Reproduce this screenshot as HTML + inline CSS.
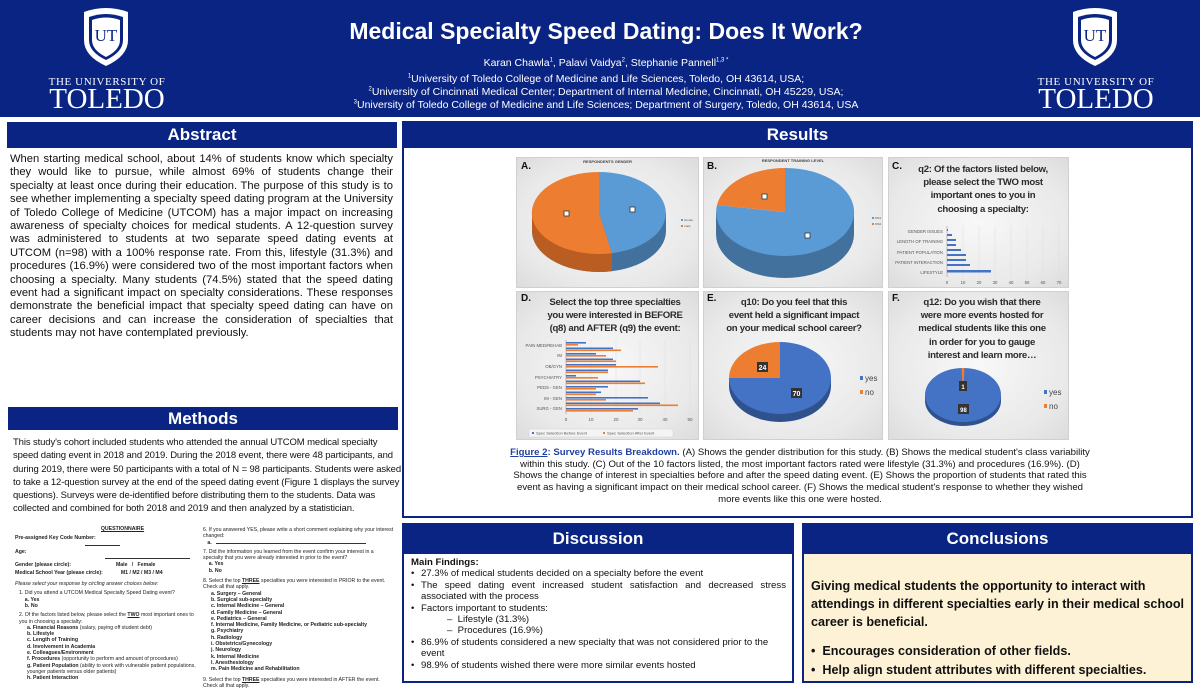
<!DOCTYPE html>
<html><head><meta charset="utf-8">
<style>
*{margin:0;padding:0;box-sizing:border-box}
body{width:1200px;height:675px;overflow:hidden;background:#fff;font-family:"Liberation Sans",Arial,sans-serif;position:relative;color:#111}
.abs{position:absolute}
.hdr{background:#0a2483;color:#fff;font-weight:bold;text-align:center;font-size:17px;line-height:26px}
.serif{font-family:"Liberation Serif",serif}
.cbox{position:absolute;background:radial-gradient(ellipse at center,#f8f8f8 0%,#e9e9e9 70%,#dcdcdc 100%);border:1px solid #d0d0d0}
.lbl{position:absolute;font-weight:bold;font-size:10px;color:#111}
.ctitle{position:absolute;text-align:center;font-weight:bold;color:#2b2b2b;font-size:9.6px;line-height:13.2px;letter-spacing:-0.3px}
.q{font-size:5.2px;line-height:6.3px;color:#222}
.q b{font-weight:bold}
sup{font-size:6px;line-height:0}
</style></head><body>

<div class="abs" style="left:0;top:0;width:1200px;height:117px;background:#0a2483"></div>
<svg class="abs" style="left:78px;top:6px" width="56" height="62" viewBox="0 0 56 62">
<path d="M6 6 Q28 -2 50 6 L50 34 Q50 50 28 60 Q6 50 6 34 Z" fill="#fff"/>
<path d="M11 11 Q28 5 45 11 L45 34 Q45 46 28 54 Q11 46 11 34 Z" fill="#0a2483"/>
<path d="M14 14 Q28 9 42 14 L42 34 Q42 44 28 51 Q14 44 14 34 Z" fill="#fff"/>
<text x="28" y="35" text-anchor="middle" font-family="Liberation Serif" font-size="17" fill="#0a2483">UT</text>
</svg>
<div class="abs serif" style="left:40px;top:76px;width:134px;text-align:center;color:#fff;font-size:11px;letter-spacing:0.6px">THE UNIVERSITY OF</div>
<div class="abs serif" style="left:40px;top:84px;width:134px;text-align:center;color:#fff;font-size:29px;line-height:30px">TOLEDO</div>
<svg class="abs" style="left:1067px;top:6px" width="56" height="62" viewBox="0 0 56 62">
<path d="M6 6 Q28 -2 50 6 L50 34 Q50 50 28 60 Q6 50 6 34 Z" fill="#fff"/>
<path d="M11 11 Q28 5 45 11 L45 34 Q45 46 28 54 Q11 46 11 34 Z" fill="#0a2483"/>
<path d="M14 14 Q28 9 42 14 L42 34 Q42 44 28 51 Q14 44 14 34 Z" fill="#fff"/>
<text x="28" y="35" text-anchor="middle" font-family="Liberation Serif" font-size="17" fill="#0a2483">UT</text>
</svg>
<div class="abs serif" style="left:1029px;top:76px;width:134px;text-align:center;color:#fff;font-size:11px;letter-spacing:0.6px">THE UNIVERSITY OF</div>
<div class="abs serif" style="left:1029px;top:84px;width:134px;text-align:center;color:#fff;font-size:29px;line-height:30px">TOLEDO</div>

<div class="abs" style="left:200px;top:18px;width:812px;text-align:center;color:#fff;font-weight:bold;font-size:23px">Medical Specialty Speed Dating: Does It Work?</div>
<div class="abs" style="left:200px;top:57px;width:812px;text-align:center;color:#fff;font-size:10.5px;line-height:13px">Karan Chawla<sup>1</sup>, Palavi Vaidya<sup>2</sup>, Stephanie Pannell<sup>1,3 *</sup></div>
<div class="abs" style="left:200px;top:73px;width:812px;text-align:center;color:#fff;font-size:10.5px;line-height:13.2px"><sup>1</sup>University of Toledo College of Medicine and Life Sciences, Toledo, OH 43614, USA;<br><sup>2</sup>University of Cincinnati Medical Center; Department of Internal Medicine, Cincinnati, OH 45229, USA;<br><sup>3</sup>University of Toledo College of Medicine and Life Sciences; Department of Surgery, Toledo, OH 43614, USA</div>

<div class="abs hdr" style="left:7px;top:122px;width:390px;height:26px">Abstract</div>
<div class="abs" style="left:10px;top:153px;width:383px;font-size:11.2px;line-height:13.4px;text-align:justify">When starting medical school, about 14% of students know which specialty they would like to pursue, while almost 69% of students change their specialty at least once during their education. The purpose of this study is to see whether implementing a specialty speed dating program at the University of Toledo College of Medicine (UTCOM) has a major impact on increasing awareness of specialty choices for medical students. A 12-question survey was administered to students at two separate speed dating events at UTCOM (n=98) with a 100% response rate. From this, lifestyle (31.3%) and procedures (16.9%) were considered two of the most important factors when choosing a specialty. Many students (74.5%) stated that the speed dating event had a significant impact on specialty considerations. These responses demonstrate the beneficial impact that specialty speed dating can have on career decisions and can increase the consideration of specialties that students may not have contemplated previously.</div>

<div class="abs hdr" style="left:8px;top:407px;width:390px;height:23px;line-height:23px">Methods</div>
<div class="abs" style="left:13px;top:436px;width:388px;font-size:9.5px;letter-spacing:-0.12px;line-height:13.3px">This study's cohort included students who attended the annual UTCOM medical specialty speed dating event in 2018 and 2019. During the 2018 event, there were 48 participants, and during 2019, there were 50 participants with a total of N = 98 participants. Students were asked to take a 12-question survey at the end of the speed dating event (Figure 1 displays the survey questions). Surveys were de-identified before distributing them to the students. Data was collected and combined for both 2018 and 2019 and then analyzed by a statistician.</div>

<div class="abs q" style="left:15px;top:526px;width:185px">
<div style="text-align:center;text-decoration:underline;font-weight:bold;margin-left:30px">QUESTIONNAIRE</div>
<div style="margin-top:3px"><b>Pre-assigned Key Code Number:</b><span style="display:inline-block;width:35px;border-bottom:0.5px solid #333;margin-left:70px"></span></div>
<div style="margin-top:1px"><b>Age:</b><span style="display:inline-block;width:85px;border-bottom:0.5px solid #333;margin-left:90px"></span></div>
<div style="margin-top:1px"><b>Gender (please circle):</b><span style="margin-left:45px"><b>Male &nbsp; / &nbsp; Female</b></span></div>
<div style="margin-top:1px"><b>Medical School Year (please circle):</b><span style="margin-left:18px"><b>M1 / M2 / M3 / M4</b></span></div>
<div style="margin-top:5px;font-style:italic">Please select your response by circling answer choices below:</div>
<div style="margin-top:3px;margin-left:4px">1. Did you attend a UTCOM Medical Specialty Speed Dating event?<br>&nbsp;&nbsp;&nbsp;&nbsp;<b>a. Yes</b><br>&nbsp;&nbsp;&nbsp;&nbsp;<b>b. No</b></div>
<div style="margin-top:3px;margin-left:4px">2. Of the factors listed below, please select the <b><u>TWO</u></b> most important ones to you in choosing a specialty:
<div style="margin-left:8px"><b>a. Financial Reasons</b> (salary, paying off student debt)<br><b>b. Lifestyle</b><br><b>c. Length of Training</b><br><b>d. Involvement in Academia</b><br><b>e. Colleagues/Environment</b><br><b>f. Procedures</b> (opportunity to perform and amount of procedures)<br><b>g. Patient Population</b> (ability to work with vulnerable patient populations, younger patients versus older patients)<br><b>h. Patient Interaction</b></div></div>
</div>
<div class="abs q" style="left:203px;top:527px;width:192px">
<div>6. If you answered YES, please write a short comment explaining why your interest changed:<br>&nbsp;&nbsp;&nbsp;<b>a.</b><span style="display:inline-block;width:150px;border-bottom:0.5px solid #333;margin-left:4px"></span></div>
<div style="margin-top:3px">7. Did the information you learned from the event confirm your interest in a specialty that you were already interested in prior to the event?<br>&nbsp;&nbsp;&nbsp;&nbsp;<b>a. Yes</b><br>&nbsp;&nbsp;&nbsp;&nbsp;<b>b. No</b></div>
<div style="margin-top:4px">8. Select the top <b><u>THREE</u></b> specialties you were interested in PRIOR to the event. Check all that apply.
<div style="margin-left:8px"><b>a. Surgery – General<br>b. Surgical sub-specialty<br>c. Internal Medicine – General<br>d. Family Medicine – General<br>e. Pediatrics – General<br>f. Internal Medicine, Family Medicine, or Pediatric sub-specialty<br>g. Psychiatry<br>h. Radiology<br>i. Obstetrics/Gynecology<br>j. Neurology<br>k. Internal Medicine<br>l. Anesthesiology<br>m. Pain Medicine and Rehabilitation</b></div></div>
<div style="margin-top:4px">9. Select the top <b><u>THREE</u></b> specialties you were interested in AFTER the event. Check all that apply.</div>
</div>

<div class="abs" style="left:402px;top:121px;width:791px;height:397px;border:2px solid #0a2483"></div>
<div class="abs hdr" style="left:403px;top:122px;width:789px;height:26px">Results</div>

<!-- A -->
<div class="cbox" style="left:516px;top:157px;width:183px;height:131px"></div>
<div class="lbl" style="left:521px;top:161px">A.</div>
<div class="abs" style="left:516px;top:159px;width:183px;text-align:center;font-size:4px;font-weight:bold;color:#444">RESPONDENTS GENDER</div>
<svg class="abs" style="left:516px;top:157px" width="183" height="131">
<g transform="translate(-516,-157)">
<path d="M532 213 L532 231 A67 41 0 0 0 666 231 L666 213 Z" fill="#41719c"/>
<path d="M532 213 L532 231 A67 41 0 0 0 612 271.2 L612 253.2 Z" fill="#b95d22"/>
<path d="M599 213 L599 172 A67 41 0 0 1 612 253.2 Z" fill="#5b9bd5"/>
<path d="M599 213 L612 253.2 A67 41 0 1 1 599 172 Z" fill="#ed7d31"/>
<rect x="564" y="211" width="5" height="5" fill="#fff" stroke="#333" stroke-width="0.8"/>
<rect x="630" y="207" width="5" height="5" fill="#fff" stroke="#333" stroke-width="0.8"/>
<rect x="681" y="219" width="2" height="2" fill="#5b9bd5"/><rect x="681" y="225" width="2" height="2" fill="#ed7d31"/>
<text x="684" y="221" font-size="3" fill="#555">female</text><text x="684" y="227" font-size="3" fill="#555">male</text>
</g></svg>

<!-- B -->
<div class="cbox" style="left:703px;top:157px;width:180px;height:131px"></div>
<div class="lbl" style="left:707px;top:161px">B.</div>
<div class="abs" style="left:703px;top:158px;width:180px;text-align:center;font-size:4px;font-weight:bold;color:#444">RESPONDENT TRAINING LEVEL</div>
<svg class="abs" style="left:703px;top:157px" width="180" height="131">
<g transform="translate(-703,-157)">
<path d="M716 212 L716 234 A69 44 0 0 0 854 234 L854 212 Z" fill="#41719c"/>
<path d="M785 212 L785 168 A69 44 0 1 1 717 205 Z" fill="#5b9bd5"/>
<path d="M785 212 L717 205 A69 44 0 0 1 785 168 Z" fill="#ed7d31"/>
<rect x="762" y="194" width="5" height="5" fill="#fff" stroke="#333" stroke-width="0.8"/>
<rect x="805" y="233" width="5" height="5" fill="#fff" stroke="#333" stroke-width="0.8"/>
<rect x="872" y="217" width="2" height="2" fill="#5b9bd5"/><rect x="872" y="223" width="2" height="2" fill="#ed7d31"/>
<text x="875" y="219" font-size="3" fill="#555">MS1</text><text x="875" y="225" font-size="3" fill="#555">MS2</text>
</g></svg>

<!-- C -->
<div class="cbox" style="left:888px;top:157px;width:181px;height:131px"></div>
<div class="lbl" style="left:892px;top:161px">C.</div>
<div class="ctitle" style="left:900px;width:166px;top:163px">q2: Of the factors listed below,<br>please select the TWO most<br>important ones to you in<br>choosing a specialty:</div>
<svg class="abs" style="left:888px;top:157px" width="181" height="131">
<g transform="translate(-888,-157)" font-family="Liberation Sans" fill="#555">
<g stroke="#ddd" stroke-width="0.5"><line x1="963" y1="226" x2="963" y2="277"/><line x1="979" y1="226" x2="979" y2="277"/><line x1="995" y1="226" x2="995" y2="277"/><line x1="1011" y1="226" x2="1011" y2="277"/><line x1="1027" y1="226" x2="1027" y2="277"/><line x1="1043" y1="226" x2="1043" y2="277"/><line x1="1059" y1="226" x2="1059" y2="277"/></g>
<line x1="947" y1="226" x2="947" y2="277" stroke="#999" stroke-width="0.6"/>
<g fill="#4472c4">
<rect x="947" y="229" width="1" height="2"/><rect x="947" y="234" width="5" height="2"/><rect x="947" y="239" width="9" height="2"/><rect x="947" y="244" width="9" height="2"/><rect x="947" y="249" width="14" height="2"/><rect x="947" y="254" width="19" height="2"/><rect x="947" y="259" width="19" height="2"/><rect x="947" y="264" width="23" height="2"/><rect x="947" y="270" width="44" height="2.5"/>
</g>
<g font-size="4.3" text-anchor="end"><text x="943" y="233">GENDER ISSUES</text><text x="943" y="243">LENGTH OF TRAINING</text><text x="943" y="254">PATIENT POPULATION</text><text x="943" y="264">PATIENT INTERACTION</text><text x="943" y="274">LIFESTYLE</text></g>
<g font-size="4.3" text-anchor="middle"><text x="947" y="284">0</text><text x="963" y="284">10</text><text x="979" y="284">20</text><text x="995" y="284">30</text><text x="1011" y="284">40</text><text x="1027" y="284">50</text><text x="1043" y="284">60</text><text x="1059" y="284">70</text></g>
</g></svg>

<!-- D -->
<div class="cbox" style="left:516px;top:291px;width:183px;height:149px"></div>
<div class="lbl" style="left:521px;top:293px">D.</div>
<div class="ctitle" style="left:532px;width:166px;top:296px">Select the top three specialties<br>you were interested in BEFORE<br>(q8) and AFTER (q9) the event:</div>
<svg class="abs" style="left:516px;top:291px" width="183" height="149">
<g transform="translate(-516,-291)" fill="#555">
<g stroke="#ddd" stroke-width="0.5"><line x1="591" y1="340" x2="591" y2="414"/><line x1="616" y1="340" x2="616" y2="414"/><line x1="640" y1="340" x2="640" y2="414"/><line x1="665" y1="340" x2="665" y2="414"/><line x1="690" y1="340" x2="690" y2="414"/></g>
<line x1="566" y1="340" x2="566" y2="414" stroke="#999" stroke-width="0.6"/>
<g fill="#4472c4">
<rect x="566" y="342" width="20" height="1.6"/><rect x="566" y="347.5" width="47" height="1.6"/><rect x="566" y="353" width="30" height="1.6"/><rect x="566" y="358.5" width="47" height="1.6"/><rect x="566" y="364" width="50" height="1.6"/><rect x="566" y="369.5" width="42" height="1.6"/><rect x="566" y="375" width="10" height="1.6"/><rect x="566" y="380.5" width="74" height="1.6"/><rect x="566" y="386" width="42" height="1.6"/><rect x="566" y="391.5" width="35" height="1.6"/><rect x="566" y="397" width="82" height="1.6"/><rect x="566" y="402.5" width="94" height="1.6"/><rect x="566" y="408" width="72" height="1.6"/>
</g>
<g fill="#ed7d31">
<rect x="566" y="344" width="12" height="1.6"/><rect x="566" y="349.5" width="55" height="1.6"/><rect x="566" y="355" width="40" height="1.6"/><rect x="566" y="360.5" width="50" height="1.6"/><rect x="566" y="366" width="92" height="1.6"/><rect x="566" y="371.5" width="42" height="1.6"/><rect x="566" y="377" width="32" height="1.6"/><rect x="566" y="382.5" width="79" height="1.6"/><rect x="566" y="388" width="30" height="1.6"/><rect x="566" y="393.5" width="30" height="1.6"/><rect x="566" y="399" width="40" height="1.6"/><rect x="566" y="404.5" width="112" height="1.6"/><rect x="566" y="410" width="67" height="1.6"/>
</g>
<g font-size="4.3" text-anchor="end"><text x="562" y="347">PAIN MED/REHAB</text><text x="562" y="357">IM</text><text x="562" y="368">OB/GYN</text><text x="562" y="379">PSYCHIATRY</text><text x="562" y="389">PEDS - GEN</text><text x="562" y="400">IM - GEN</text><text x="562" y="410">SURG - GEN</text></g>
<g font-size="4.5" text-anchor="middle"><text x="566" y="421">0</text><text x="591" y="421">10</text><text x="616" y="421">20</text><text x="640" y="421">30</text><text x="665" y="421">40</text><text x="690" y="421">50</text></g>
<rect x="529" y="429" width="144" height="8" fill="#f4f4f4" stroke="#ccc" stroke-width="0.4"/>
<rect x="532" y="432" width="2" height="2" fill="#4472c4"/><text x="536" y="434.5" font-size="4">Spec Selection Before Event</text>
<rect x="603" y="432" width="2" height="2" fill="#ed7d31"/><text x="607" y="434.5" font-size="4">Spec Selection After Event</text>
</g></svg>

<!-- E -->
<div class="cbox" style="left:703px;top:291px;width:180px;height:149px"></div>
<div class="lbl" style="left:707px;top:293px">E.</div>
<div class="ctitle" style="left:710px;width:168px;top:296px">q10: Do you feel that this<br>event held a significant impact<br>on your medical school career?</div>
<svg class="abs" style="left:703px;top:291px" width="180" height="149">
<g transform="translate(-703,-291)">
<path d="M729 378 L729 386 A51 36 0 0 0 831 386 L831 378 Z" fill="#2f528f"/>
<path d="M780 378 L780 342 A51 36 0 1 1 729 378 Z" fill="#4472c4"/>
<path d="M780 378 L729 378 A51 36 0 0 1 780 342 Z" fill="#ed7d31"/>
<rect x="757" y="362" width="11" height="10" fill="#333"/><text x="762.5" y="370" font-size="7" fill="#fff" font-weight="bold" text-anchor="middle">24</text>
<rect x="791" y="388" width="11" height="10" fill="#333"/><text x="796.5" y="396" font-size="7" fill="#fff" font-weight="bold" text-anchor="middle">70</text>
<rect x="860" y="376" width="3" height="4" fill="#4472c4"/><text x="865" y="381" font-size="8" fill="#444">yes</text>
<rect x="860" y="390" width="3" height="4" fill="#ed7d31"/><text x="865" y="395" font-size="8" fill="#444">no</text>
</g></svg>

<!-- F -->
<div class="cbox" style="left:888px;top:291px;width:181px;height:149px"></div>
<div class="lbl" style="left:892px;top:293px">F.</div>
<div class="ctitle" style="left:897px;width:170px;top:296px">q12: Do you wish that there<br>were more events hosted for<br>medical students like this one<br>in order for you to gauge<br>interest and learn more…</div>
<svg class="abs" style="left:888px;top:291px" width="181" height="149">
<g transform="translate(-888,-291)">
<path d="M925 395 L925 401 A38 25 0 0 0 1001 401 L1001 395 Z" fill="#2f528f"/>
<ellipse cx="963" cy="395" rx="38" ry="27" fill="#4472c4"/>
<path d="M963 395 L961.5 368 L964.5 368 Z" fill="#ed7d31"/>
<rect x="959" y="381" width="8" height="10" fill="#333"/><text x="963" y="389" font-size="6" fill="#fff" font-weight="bold" text-anchor="middle">1</text>
<rect x="958" y="404" width="11" height="10" fill="#333"/><text x="963.5" y="412" font-size="6" fill="#fff" font-weight="bold" text-anchor="middle">98</text>
<rect x="1044" y="390" width="3" height="4" fill="#4472c4"/><text x="1049" y="395" font-size="8" fill="#444">yes</text>
<rect x="1044" y="404" width="3" height="4" fill="#ed7d31"/><text x="1049" y="409" font-size="8" fill="#444">no</text>
</g></svg>

<div class="abs" style="left:505px;top:447px;width:590px;text-align:center;font-size:9.6px;line-height:11.7px;color:#111"><span style="color:#1f3fa3;font-weight:bold"><u>Figure 2</u>: Survey Results Breakdown.</span> (A) Shows the gender distribution for this study. (B) Shows the medical student's class variability within this study. (C) Out of the 10 factors listed, the most important factors rated were lifestyle (31.3%) and procedures (16.9%). (D) Shows the change of interest in specialties before and after the speed dating event. (E) Shows the proportion of students that rated this event as having a significant impact on their medical school career. (F) Shows the medical student's response to whether they wished more events like this one were hosted.</div>

<div class="abs" style="left:402px;top:523px;width:392px;height:160px;border:2px solid #0a2483"></div>
<div class="abs hdr" style="left:403px;top:524px;width:390px;height:30px;line-height:30px">Discussion</div>
<div class="abs" style="left:411px;top:557px;width:375px;font-size:9.6px;line-height:11.4px">
<b>Main Findings:</b>
<div style="display:flex"><span style="width:10px">•</span><span>27.3% of medical students decided on a specialty before the event</span></div>
<div style="display:flex"><span style="width:10px;flex:none">•</span><span style="text-align:justify">The speed dating event increased student satisfaction and decreased stress associated with the process</span></div>
<div style="display:flex"><span style="width:10px">•</span><span>Factors important to students:</span></div>
<div style="padding-left:36px">–&nbsp; Lifestyle (31.3%)<br>–&nbsp; Procedures (16.9%)</div>
<div style="display:flex"><span style="width:10px;flex:none">•</span><span>86.9% of students considered a new specialty that was not considered prior to the event</span></div>
<div style="display:flex"><span style="width:10px">•</span><span>98.9% of students wished there were more similar events hosted</span></div>
</div>

<div class="abs" style="left:802px;top:523px;width:391px;height:160px;border:2px solid #0a2483;background:#fdf2d5"></div>
<div class="abs hdr" style="left:803px;top:524px;width:389px;height:30px;line-height:30px">Conclusions</div>
<div class="abs" style="left:811px;top:577px;width:378px;font-size:12.6px;line-height:18px;font-weight:bold;color:#111">Giving medical students the opportunity to interact with attendings in different specialties early in their medical school career is beneficial.</div>
<div class="abs" style="left:811px;top:642px;width:385px;font-size:12.6px;line-height:18.5px;font-weight:bold;color:#111">•&nbsp; Encourages consideration of other fields.<br>•&nbsp; Help align student attributes with different specialties.</div>

</body></html>
